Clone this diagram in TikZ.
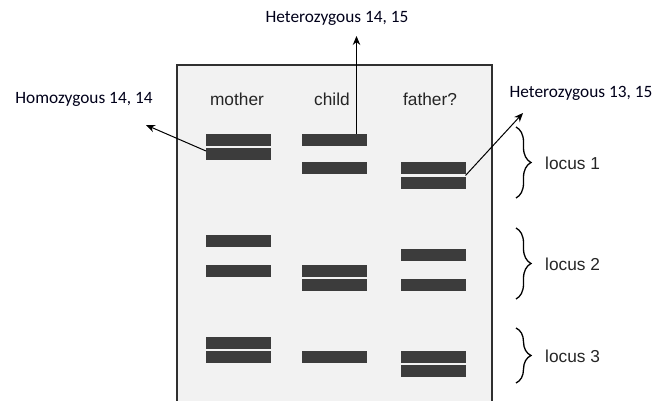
\documentclass[tikz,border=0pt]{standalone}
\usepackage{fontspec}
\setmainfont{Liberation Sans}
\newfontfamily\calibrifont{Carlito}
\usetikzlibrary{arrows.meta,decorations.pathreplacing}
\definecolor{gelbg}{HTML}{F2F2F2}
\definecolor{band}{HTML}{3C3C3C}
\definecolor{gelline}{HTML}{303030}
\definecolor{gray txt}{HTML}{252525}
\begin{document}
\begin{tikzpicture}[x=1pt,y=-1pt,
  bandbox/.style={fill=band,draw=none,minimum width=65pt,minimum height=12pt,inner sep=0pt,outer sep=0pt},
  lanelabel/.style={font=\fontsize{17.3}{20}\selectfont,text=gray txt,inner sep=0pt},
  locuslabel/.style={font=\fontsize{17.3}{20}\selectfont,text=gray txt,inner sep=0pt,anchor=west},
  annot/.style={font=\calibrifont\fontsize{17.3}{20}\selectfont,text=black!90!blue,inner sep=0pt},
  arr/.style={line width=1pt,-{Stealth[length=9pt,width=7.5pt]}},
  bracestyle/.style={line width=1.3pt,decorate,decoration={brace,amplitude=15pt}}]
\useasboundingbox (0,0) rectangle (669,401);
% gel
\fill[gelbg] (177,65) rectangle (492,401);
\draw[gelline,line width=1.6pt] (177,401) -- (177,65) -- (492,65) -- (492,401);
% lane labels
\node[lanelabel] (lm) at (237,99) {mother};
\node[lanelabel] (lc) at (332,99) {child};
\node[lanelabel] (lf) at (430,99) {father?};
% mother bands
\node[bandbox] (mb1) at (238.5,140) {};
\node[bandbox] (mb2) at (238.5,154) {};
\node[bandbox] (mb3) at (238.5,240.5) {};
\node[bandbox] (mb4) at (238.5,270.5) {};
\node[bandbox] (mb5) at (238.5,342.5) {};
\node[bandbox] (mb6) at (238.5,357) {};
% child bands
\node[bandbox] (cb1) at (334.5,140) {};
\node[bandbox] (cb2) at (334.5,168) {};
\node[bandbox] (cb3) at (334.5,270.5) {};
\node[bandbox] (cb4) at (334.5,285) {};
\node[bandbox] (cb5) at (334.5,357) {};
% father bands
\node[bandbox] (fb1) at (433,168) {};
\node[bandbox] (fb2) at (433,182.5) {};
\node[bandbox] (fb3) at (433,255) {};
\node[bandbox] (fb4) at (433,285) {};
\node[bandbox] (fb5) at (433,357) {};
\node[bandbox] (fb6) at (433,371) {};
% annotations
\node[annot] (hm) at (84,99) {Homozygous 14, 14};
\node[annot] (hc) at (337,18) {Heterozygous 14, 15};
\node[annot] (hf) at (581,93) {Heterozygous 13, 15};
\coordinate (tm) at (146,125);
\coordinate (tc) at (356.5,36);
\coordinate (tf) at (523,113);
\draw[arr] ([yshift=3pt]mb2.west) -- (tm);
\draw[arr] ([xshift=22pt]cb1.north) -- (tc);
\draw[arr] ([yshift=1pt]fb2.north east) -- (tf);
% braces
\draw[bracestyle] (516,127) -- (516,198);
\draw[bracestyle] (516,228) -- (516,299);
\draw[bracestyle] (516,328) -- (516,383);
\node[locuslabel] (l1) at (545,163) {locus 1};
\node[locuslabel] (l2) at (545,264) {locus 2};
\node[locuslabel] (l3) at (545,356) {locus 3};
\end{tikzpicture}
\end{document}
